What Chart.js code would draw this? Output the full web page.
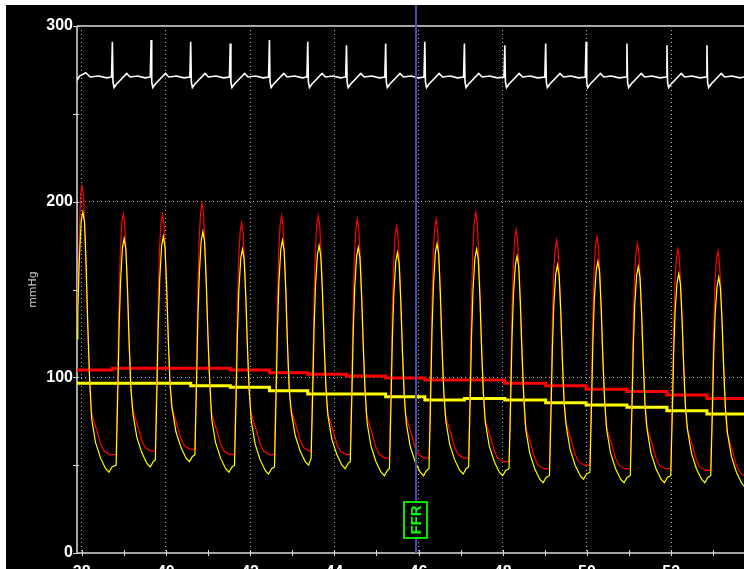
<!DOCTYPE html>
<html>
<head>
<meta charset="utf-8">
<script src="https://cdn.jsdelivr.net/npm/chart.js@4/dist/chart.umd.min.js"></script>
<style>
  html, body { margin: 0; padding: 0; background: #ffffff; overflow: hidden; width: 744px; height: 569px; }
  #wrap { position: absolute; left: 6px; top: 5px; width: 738px; height: 600px; background: #000000; }
  canvas { display: block; }
</style>
</head>
<body>
<div id="wrap"><canvas id="c" width="738" height="600"></canvas></div>
<script>
// ---- axis settings / labels ----
const timeMin = 37.89;
const timeMax = 53.73;
const xTickValues = [38, 39, 40, 41, 42, 43, 44, 45, 46, 47, 48, 49, 50, 51, 52, 53];
const yTickValues = [0, 100, 200, 300];
const yMinorTicks = [0, 50, 100, 150, 200, 250, 300];
const yAxisTitle = 'mmHg';
const cursorTime = 45.94;
const cursorLabel = 'FFR';

// ---- ECG trace (white, top band) [time s, value] ----
const ecg = [
  [37.89,269],[37.95,271.5],[38.10,273.4],[38.20,271],[38.40,271.5],[38.60,270.5],
  [38.71,271],[38.73,291],[38.745,268],[38.77,265],[38.83,267],[38.95,270],[39.07,273],[39.15,271],[39.33,271.5],[39.51,270.5],
  [39.63,271],[39.65,292],[39.665,268],[39.69,265],[39.75,267],[39.87,270],[39.99,273],[40.07,271],[40.25,271.5],[40.43,270.5],
  [40.57,271],[40.59,291],[40.605,268],[40.63,265],[40.69,267],[40.81,270],[40.93,273],[41.01,271],[41.19,271.5],[41.37,270.5],
  [41.51,271],[41.53,290],[41.545,268],[41.57,265],[41.63,267],[41.75,270],[41.87,273],[41.95,271],[42.13,271.5],[42.31,270.5],
  [42.44,271],[42.46,292],[42.475,268],[42.50,265],[42.56,267],[42.68,270],[42.80,273],[42.88,271],[43.06,271.5],[43.24,270.5],
  [43.35,271],[43.37,291],[43.385,268],[43.41,265],[43.47,267],[43.59,270],[43.71,273],[43.79,271],[43.97,271.5],[44.15,270.5],
  [44.27,271],[44.29,289],[44.305,268],[44.33,265],[44.39,267],[44.51,270],[44.63,273],[44.71,271],[44.89,271.5],[45.07,270.5],
  [45.20,271],[45.22,290],[45.235,268],[45.26,265],[45.32,267],[45.44,270],[45.56,273],[45.64,271],[45.82,271.5],[46.00,270.5],
  [46.13,271],[46.15,291],[46.165,268],[46.19,265],[46.25,267],[46.37,270],[46.49,273],[46.57,271],[46.75,271.5],[46.93,270.5],
  [47.07,271],[47.09,290],[47.105,268],[47.13,265],[47.19,267],[47.31,270],[47.43,273],[47.51,271],[47.69,271.5],[47.87,270.5],
  [48.03,271],[48.05,289],[48.065,268],[48.09,265],[48.15,267],[48.27,270],[48.39,273],[48.47,271],[48.65,271.5],[48.83,270.5],
  [49.00,271],[49.02,290],[49.035,268],[49.06,265],[49.12,267],[49.24,270],[49.36,273],[49.44,271],[49.62,271.5],[49.80,270.5],
  [49.96,271],[49.98,291],[49.995,268],[50.02,265],[50.08,267],[50.20,270],[50.32,273],[50.40,271],[50.58,271.5],[50.76,270.5],
  [50.93,271],[50.95,290],[50.965,268],[50.99,265],[51.05,267],[51.17,270],[51.29,273],[51.37,271],[51.55,271.5],[51.73,270.5],
  [51.88,271],[51.90,289],[51.915,268],[51.94,265],[52.00,267],[52.12,270],[52.24,273],[52.32,271],[52.50,271.5],[52.68,270.5],
  [52.83,271],[52.85,289],[52.865,268],[52.89,265],[52.95,267],[53.07,270],[53.19,273],[53.27,271],[53.45,271.5],[53.63,270.5],
  [53.73,271]
];

// ---- aortic pressure Pa (red) [time s, mmHg] ----
const aorticPressure = [
  [37.89,128],[37.94,175],[37.975,204],[38.01,209],[38.045,203],[38.09,175],[38.13,140],[38.17,110],[38.22,81],[38.28,76],[38.37,69],[38.45,62],[38.53,58],[38.67,56],
  [38.82,56],[38.86,104],[38.89,145],[38.92,172],[38.955,188],[38.99,193],[39.025,187],[39.07,163],[39.11,131],[39.15,104],[39.20,83],[39.26,78],[39.35,71],[39.43,64],[39.51,60],[39.65,58],
  [39.75,58],[39.79,105],[39.82,146],[39.85,173],[39.885,188],[39.92,193],[39.955,187],[40.00,163],[40.04,132],[40.08,105],[40.13,84],[40.19,79],[40.28,72],[40.36,65],[40.44,61],[40.58,59],
  [40.69,59],[40.73,108],[40.76,150],[40.79,178],[40.825,194],[40.86,199],[40.895,193],[40.94,168],[40.98,136],[41.02,108],[41.07,81],[41.13,76],[41.22,69],[41.30,62],[41.38,58],[41.52,56],
  [41.63,56],[41.67,102],[41.70,142],[41.73,168],[41.765,183],[41.80,188],[41.835,182],[41.88,159],[41.92,129],[41.96,102],[42.01,81],[42.07,76],[42.16,69],[42.24,62],[42.32,58],[42.46,56],
  [42.58,56],[42.62,104],[42.65,144],[42.68,172],[42.715,187],[42.75,192],[42.785,186],[42.83,162],[42.87,131],[42.91,104],[42.96,83],[43.02,78],[43.11,71],[43.19,64],[43.27,60],[43.41,58],
  [43.45,58],[43.49,105],[43.52,145],[43.55,172],[43.585,187],[43.62,192],[43.655,186],[43.70,163],[43.74,132],[43.78,105],[43.83,81],[43.89,76],[43.98,69],[44.06,62],[44.14,58],[44.28,56],
  [44.38,56],[44.42,103],[44.45,143],[44.48,170],[44.515,185],[44.55,190],[44.585,184],[44.63,161],[44.67,130],[44.71,103],[44.76,79],[44.82,74],[44.91,67],[44.99,60],[45.07,56],[45.21,54],
  [45.31,54],[45.35,100],[45.38,140],[45.41,166],[45.445,181],[45.48,186],[45.515,180],[45.56,157],[45.60,127],[45.64,100],[45.69,79],[45.75,74],[45.84,67],[45.92,60],[46.00,56],[46.14,54],
  [46.25,54],[46.29,102],[46.32,142],[46.35,170],[46.385,185],[46.42,190],[46.455,184],[46.50,160],[46.54,129],[46.58,102],[46.63,79],[46.69,74],[46.78,67],[46.86,60],[46.94,56],[47.08,54],
  [47.19,54],[47.23,103],[47.26,145],[47.29,173],[47.325,189],[47.36,194],[47.395,188],[47.44,163],[47.48,131],[47.52,103],[47.57,77],[47.63,72],[47.72,65],[47.80,58],[47.88,54],[48.02,52],
  [48.15,52],[48.19,98],[48.22,138],[48.25,164],[48.285,179],[48.32,184],[48.355,178],[48.40,155],[48.44,125],[48.48,98],[48.53,73],[48.59,68],[48.68,61],[48.76,54],[48.84,50],[48.98,48],
  [49.11,48],[49.15,94],[49.18,133],[49.21,159],[49.245,173],[49.28,178],[49.315,172],[49.36,149],[49.40,120],[49.44,94],[49.49,75],[49.55,70],[49.64,63],[49.72,56],[49.80,52],[49.94,50],
  [50.07,50],[50.11,96],[50.14,135],[50.17,161],[50.205,175],[50.24,180],[50.275,174],[50.32,151],[50.36,122],[50.40,96],[50.45,73],[50.51,68],[50.60,61],[50.68,54],[50.76,50],[50.90,48],
  [51.03,48],[51.07,93],[51.10,131],[51.13,157],[51.165,171],[51.20,176],[51.235,170],[51.28,148],[51.32,118],[51.36,93],[51.41,73],[51.47,68],[51.56,61],[51.64,54],[51.72,50],[51.86,48],
  [51.99,48],[52.03,92],[52.06,129],[52.09,154],[52.125,168],[52.16,173],[52.195,167],[52.24,146],[52.28,117],[52.32,92],[52.37,72],[52.43,67],[52.52,60],[52.60,53],[52.68,49],[52.82,47],
  [52.94,47],[52.98,91],[53.01,128],[53.04,153],[53.075,167],[53.11,172],[53.145,166],[53.19,145],[53.23,116],[53.27,91],[53.32,69],[53.38,64],[53.47,57],[53.55,50],[53.63,46],[53.73,44]
];

// ---- distal pressure Pd (yellow) [time s, mmHg] ----
const distalPressure = [
  [37.89,122],[37.91,138],[37.945,167],[37.99,189],[38.03,194],[38.07,188],[38.11,161],[38.15,127],[38.19,99],[38.24,76],[38.33,63],[38.45,54],[38.57,48],[38.65,46],[38.72,49],
  [38.82,50],[38.86,93],[38.89,128],[38.925,155],[38.97,174],[39.01,179],[39.05,173],[39.09,150],[39.13,119],[39.17,94],[39.22,79],[39.31,66],[39.43,57],[39.55,51],[39.63,49],[39.70,52],
  [39.75,53],[39.79,95],[39.82,130],[39.855,156],[39.90,175],[39.94,180],[39.98,174],[40.02,151],[40.06,121],[40.10,96],[40.15,82],[40.24,69],[40.36,60],[40.48,54],[40.56,52],[40.63,55],
  [40.69,56],[40.73,98],[40.76,133],[40.795,159],[40.84,178],[40.88,183],[40.92,177],[40.96,154],[41.00,124],[41.04,99],[41.09,76],[41.18,63],[41.30,54],[41.42,48],[41.50,46],[41.57,49],
  [41.63,50],[41.67,90],[41.70,125],[41.735,150],[41.78,168],[41.82,173],[41.86,167],[41.90,145],[41.94,116],[41.98,92],[42.03,75],[42.12,62],[42.24,53],[42.36,47],[42.44,45],[42.51,48],
  [42.58,49],[42.62,92],[42.65,127],[42.685,154],[42.73,173],[42.77,178],[42.81,172],[42.85,149],[42.89,118],[42.93,93],[42.98,80],[43.07,67],[43.19,58],[43.31,52],[43.39,50],
  [43.45,54],[43.49,94],[43.52,128],[43.555,153],[43.60,170],[43.64,175],[43.68,169],[43.72,148],[43.76,119],[43.80,95],[43.85,78],[43.94,65],[44.06,56],[44.18,50],[44.26,48],[44.33,51],
  [44.38,52],[44.42,92],[44.45,126],[44.485,151],[44.53,169],[44.57,174],[44.61,168],[44.65,146],[44.69,117],[44.73,93],[44.78,74],[44.87,61],[44.99,52],[45.11,46],[45.19,44],[45.26,47],
  [45.31,48],[45.35,88],[45.38,123],[45.415,148],[45.46,166],[45.50,171],[45.54,165],[45.58,143],[45.62,114],[45.66,90],[45.71,74],[45.80,61],[45.92,52],[46.04,46],[46.12,44],[46.19,47],
  [46.25,48],[46.29,90],[46.32,126],[46.355,152],[46.40,171],[46.44,176],[46.48,170],[46.52,147],[46.56,117],[46.60,92],[46.65,75],[46.74,62],[46.86,53],[46.98,47],[47.06,45],[47.13,48],
  [47.19,49],[47.23,90],[47.26,124],[47.295,150],[47.34,168],[47.38,173],[47.42,167],[47.46,145],[47.50,115],[47.54,91],[47.59,74],[47.68,61],[47.80,52],[47.92,46],[48.00,44],[48.07,47],
  [48.15,48],[48.19,88],[48.22,122],[48.255,147],[48.30,164],[48.34,169],[48.38,163],[48.42,142],[48.46,113],[48.50,89],[48.55,70],[48.64,57],[48.76,48],[48.88,42],[48.96,40],[49.03,43],
  [49.11,44],[49.15,83],[49.18,117],[49.215,142],[49.26,159],[49.30,164],[49.34,158],[49.38,137],[49.42,108],[49.46,85],[49.51,72],[49.60,59],[49.72,50],[49.84,44],[49.92,42],[49.99,45],
  [50.07,46],[50.11,85],[50.14,119],[50.175,144],[50.22,161],[50.26,166],[50.30,160],[50.34,139],[50.38,110],[50.42,87],[50.47,70],[50.56,57],[50.68,48],[50.80,42],[50.88,40],[50.95,43],
  [51.03,44],[51.07,83],[51.10,116],[51.135,141],[51.18,158],[51.22,163],[51.26,157],[51.30,136],[51.34,108],[51.38,84],[51.43,70],[51.52,57],[51.64,48],[51.76,42],[51.84,40],[51.91,43],
  [51.99,44],[52.03,82],[52.06,114],[52.095,138],[52.14,154],[52.18,159],[52.22,153],[52.26,133],[52.30,105],[52.34,83],[52.39,70],[52.48,57],[52.60,48],[52.72,42],[52.80,40],[52.87,43],
  [52.94,44],[52.98,81],[53.01,113],[53.045,136],[53.09,152],[53.13,157],[53.17,151],[53.21,131],[53.25,104],[53.29,82],[53.34,68],[53.43,55],[53.55,46],[53.67,40],[53.73,38]
];

// ---- running mean pressures (step lines), updated at each beat ----
const meanTimes  = [37.89, 38.73, 39.65, 40.59, 41.53, 42.46, 43.37, 44.29, 45.22, 46.15, 47.09, 48.05, 49.02, 49.98, 50.95, 51.90, 52.85, 53.73];
const aorticMean = [104.2, 105.1, 105.1, 105.1, 104.2, 102.6, 101.7, 100.7, 99.6, 98.5, 98.5, 96.6, 95.2, 93.2, 92.0, 89.9, 88.0, 88.0];
const distalMean = [96.6, 96.6, 96.6, 95.2, 94.3, 92.4, 90.5, 90.5, 89.0, 87.1, 88.0, 87.1, 85.5, 84.2, 82.9, 81.0, 79.1, 79.1];

// ---- build datasets ----
const toXY = arr => arr.map(p => ({ x: p[0], y: p[1] }));
const stepXY = vals => meanTimes.map((t, i) => ({ x: t, y: vals[i] }));

const tickFont = { family: "'Liberation Sans Narrow', 'Arial Narrow', 'Liberation Sans', sans-serif", size: 16, weight: 'bold' };
const gridGray = '#b4b4b4';

const overlay = {
  id: 'overlay',
  beforeDatasetsDraw(chart) {
    const { ctx, chartArea: a, scales: { x, y } } = chart;
    ctx.save();
    ctx.strokeStyle = '#a6a6a6';
    ctx.lineWidth = 2;
    ctx.beginPath();
    ctx.moveTo(a.left, a.top); ctx.lineTo(a.right, a.top);
    ctx.moveTo(a.left, a.top); ctx.lineTo(a.left, a.bottom);
    ctx.moveTo(a.left - 1, a.bottom); ctx.lineTo(a.right, a.bottom);
    ctx.stroke();
    ctx.lineWidth = 1;
    ctx.strokeStyle = '#d8d8d8';
    ctx.beginPath();
    xTickValues.forEach(t => {
      const px = Math.round(x.getPixelForValue(t)) + 0.5;
      ctx.moveTo(px, a.bottom - 3); ctx.lineTo(px, a.bottom + 3);
    });
    yMinorTicks.forEach(v => {
      const py = Math.round(y.getPixelForValue(v)) + 0.5;
      ctx.moveTo(a.left - 4, py); ctx.lineTo(a.left + 2, py);
    });
    ctx.stroke();
    ctx.restore();
  },
  afterDatasetsDraw(chart) {
    const { ctx, chartArea: a, scales: { x } } = chart;
    const cx = Math.round(x.getPixelForValue(cursorTime));
    ctx.save();
    ctx.strokeStyle = '#4b4ba6';
    ctx.lineWidth = 2;
    ctx.beginPath();
    ctx.moveTo(cx, 0); ctx.lineTo(cx, a.bottom);
    ctx.stroke();
    // FFR marker box
    const bw = 25, bh = 38;
    const bx = cx - 13, by = a.bottom - 52;
    ctx.fillStyle = '#000000';
    ctx.fillRect(bx, by, bw, bh);
    ctx.strokeStyle = '#00e600';
    ctx.lineWidth = 2;
    ctx.strokeRect(bx + 1, by + 1, bw - 2, bh - 2);
    ctx.translate(cx, by + bh / 2);
    ctx.rotate(-Math.PI / 2);
    ctx.fillStyle = '#00ff00';
    ctx.font = "bold 15px 'Liberation Sans', Arial, sans-serif";
    ctx.textAlign = 'center';
    ctx.textBaseline = 'middle';
    ctx.fillText(cursorLabel, 0, 1);
    ctx.restore();
  }
};

new Chart(document.getElementById('c'), {
  type: 'line',
  data: {
    datasets: [
      { label: 'Pd', data: toXY(distalPressure), borderColor: '#ffff00', borderWidth: 1.2, pointRadius: 0, tension: 0 },
      { label: 'Pa', data: toXY(aorticPressure), borderColor: '#ff0000', borderWidth: 1.2, pointRadius: 0, tension: 0 },
      { label: 'ECG', data: toXY(ecg), borderColor: '#ffffff', borderWidth: 1.6, pointRadius: 0, tension: 0 },
      { label: 'Pd mean', data: stepXY(distalMean), borderColor: '#ffff00', borderWidth: 3, pointRadius: 0, stepped: 'before' },
      { label: 'Pa mean', data: stepXY(aorticMean), borderColor: '#ff0000', borderWidth: 3, pointRadius: 0, stepped: 'before' }
    ]
  },
  options: {
    responsive: false,
    animation: false,
    devicePixelRatio: 1,
    layout: { padding: { top: 21, right: 0, left: 0, bottom: 0 } },
    plugins: { legend: { display: false }, tooltip: { enabled: false } },
    scales: {
      x: {
        type: 'linear',
        min: timeMin,
        max: timeMax,
        afterBuildTicks: s => { s.ticks = xTickValues.map(v => ({ value: v })); },
        afterFit: s => { s.height = 52; },
        ticks: {
          autoSkip: false,
          maxRotation: 0,
          color: '#ffffff',
          font: tickFont,
          padding: 10,
          callback: v => (v % 2 === 0 ? String(v) : '')
        },
        grid: {
          drawTicks: false,
          color: c => (c.tick && c.tick.value % 2 === 0 ? gridGray : 'rgba(0,0,0,0)'),
          lineWidth: 1
        },
        border: { display: false, dash: [1, 3] }
      },
      y: {
        type: 'linear',
        min: 0,
        max: 300,
        afterBuildTicks: s => { s.ticks = yTickValues.map(v => ({ value: v })); },
        afterFit: s => { s.width = 71; },
        ticks: { color: '#ffffff', font: tickFont, padding: 4 },
        grid: {
          drawTicks: false,
          color: c => (c.tick && (c.tick.value === 100 || c.tick.value === 200) ? gridGray : 'rgba(0,0,0,0)'),
          lineWidth: 1
        },
        border: { display: false, dash: [1, 3] },
        title: {
          display: true,
          text: yAxisTitle,
          color: '#c8c8c8',
          font: { family: "'DejaVu Sans', sans-serif", size: 11 },
          padding: { top: 21, bottom: 0 }
        }
      }
    }
  },
  plugins: [overlay]
});
</script>
</body>
</html>
